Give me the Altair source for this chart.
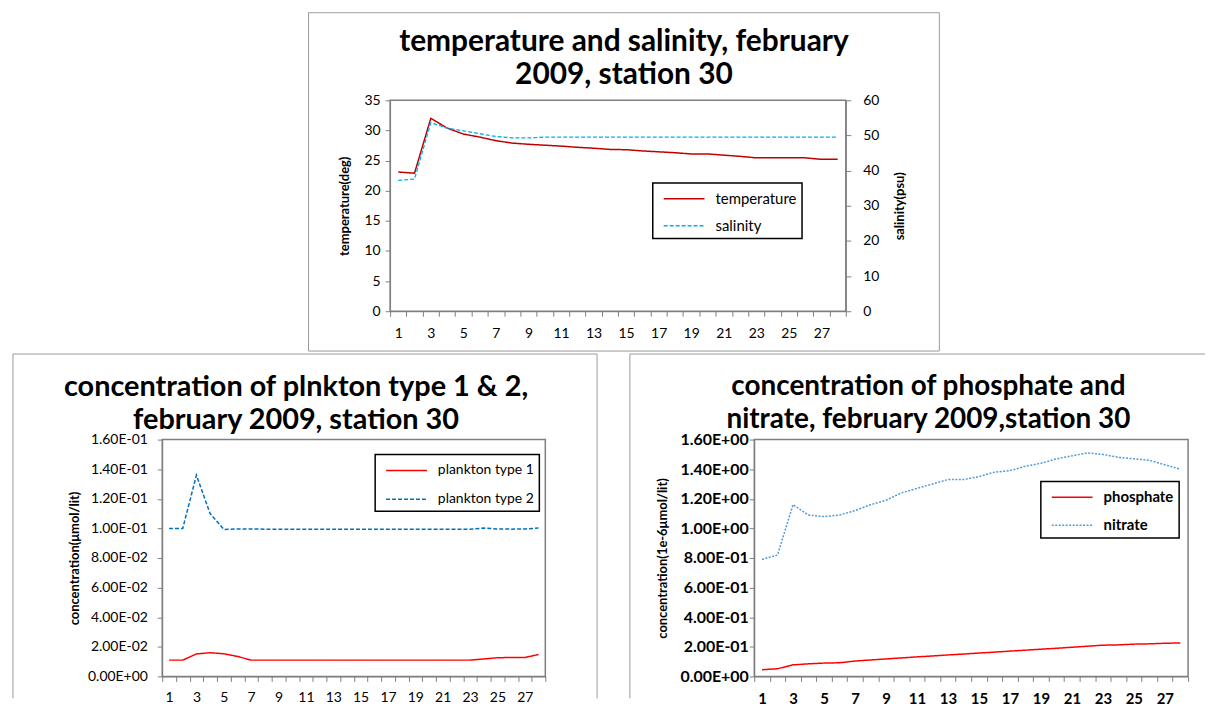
import altair as alt
import pandas as pd

# ---------------- data ----------------
stations = list(range(1, 29))

temperature = [23.1, 22.9, 32.0, 30.4, 29.4, 28.9, 28.3, 27.9, 27.7, 27.55,
               27.4, 27.2, 27.05, 26.85, 26.8, 26.6, 26.45, 26.3, 26.1, 26.1,
               25.9, 25.7, 25.45, 25.45, 25.45, 25.45, 25.2, 25.2]
salinity = [37.2, 37.6, 53.6, 52.1, 51.3, 50.5, 49.7, 49.3, 49.3, 49.5,
            49.5, 49.5, 49.5, 49.5, 49.5, 49.5, 49.5, 49.5, 49.5, 49.5,
            49.5, 49.5, 49.5, 49.5, 49.5, 49.5, 49.5, 49.5]

plankton_type1 = [0.0110, 0.0110, 0.0152, 0.0160, 0.0153, 0.0135, 0.0110, 0.0110,
                  0.0110, 0.0110, 0.0110, 0.0110, 0.0110, 0.0110, 0.0110, 0.0110,
                  0.0110, 0.0110, 0.0110, 0.0110, 0.0110, 0.0110, 0.0110, 0.0118,
                  0.0126, 0.0128, 0.0128, 0.0148]
plankton_type2 = [0.1000, 0.1000, 0.1360, 0.1100, 0.0993, 0.0996, 0.0996, 0.0995,
                  0.0995, 0.0995, 0.0995, 0.0995, 0.0995, 0.0995, 0.0995, 0.0995,
                  0.0995, 0.0995, 0.0995, 0.0995, 0.0995, 0.0995, 0.0995, 0.1002,
                  0.0996, 0.0995, 0.0996, 0.1002]

phosphate = [0.045, 0.052, 0.078, 0.085, 0.090, 0.092, 0.104, 0.111, 0.118, 0.125,
             0.132, 0.138, 0.145, 0.151, 0.158, 0.164, 0.171, 0.177, 0.184, 0.190,
             0.197, 0.204, 0.211, 0.213, 0.218, 0.220, 0.224, 0.226]
nitrate = [0.79, 0.82, 1.16, 1.09, 1.08, 1.09, 1.12, 1.16, 1.19, 1.24,
           1.27, 1.30, 1.33, 1.33, 1.35, 1.38, 1.39, 1.42, 1.44, 1.47,
           1.49, 1.51, 1.50, 1.48, 1.47, 1.46, 1.43, 1.40]

temp_ticks = [0, 5, 10, 15, 20, 25, 30, 35]
sal_ticks = [0, 10, 20, 30, 40, 50, 60]
plankton_ticks = [0, 0.02, 0.04, 0.06, 0.08, 0.10, 0.12, 0.14, 0.16]
nutrient_ticks = [0, 0.2, 0.4, 0.6, 0.8, 1.0, 1.2, 1.4, 1.6]

top_series = ["temperature", "salinity"]
plankton_series = ["plankton type 1", "plankton type 2"]
nutrient_series = ["phosphate", "nitrate"]

top_title = ["temperature and salinity, february", "2009, station 30"]
bl_title = ["concentration of plnkton type 1 & 2,", "february 2009, station 30"]
br_title = ["concentration of phosphate and", "nitrate, february 2009,station 30"]

# ---------------- style ----------------
FONT = "Lato"
AXIS_GRAY = "#7F7F7F"
PANEL_GRAY = "#9A9A9A"
ODD = "datum.value % 2 == 1 ? datum.label : ''"
SCI = ("datum.value == 0 ? '0.00E+00' : "
       "format(datum.value / pow(10, floor(log(datum.value) / LN10 + 1e-9)), '.2f') + 'E' + "
       "(floor(log(datum.value) / LN10 + 1e-9) < 0 ? '-' : '+') + "
       "format(abs(floor(log(datum.value) / LN10 + 1e-9)), '02d')")
LEGEND_LINE = "M-0.5,0H3.6"   # a 41px legend line drawn inside a 20px symbol slot


def long_table(names, series):
    rows = []
    for name, vals in zip(names, series):
        for st, v in zip(stations, vals):
            rows.append({"station": st, "series": name, "value": v})
    return pd.DataFrame(rows)


def x_enc(size, weight, pad):
    return alt.X("station:O", sort=stations, bandPosition=0.5,
                 scale=alt.Scale(type="band", paddingInner=0, paddingOuter=0),
                 axis=alt.Axis(title=None, labelAngle=0, labelExpr=ODD, labelOverlap=False,
                               tickBand="extent", tickSize=5, labelPadding=pad,
                               labelFont=FONT, labelFontSize=size, labelFontWeight=weight,
                               labelColor="black", domainColor=AXIS_GRAY, tickColor=AXIS_GRAY,
                               grid=False))


def y_axis(values, title, orient, tx, ty, size, weight, pad, expr=None):
    kw = dict(values=values, orient=orient, title=title, titleFont=FONT, titleFontSize=13,
              titleFontWeight="bold", titleColor="black", titleAngle=270, titleX=tx, titleY=ty,
              titleAlign="center", titleBaseline="middle", labelFont=FONT, labelFontSize=size,
              labelFontWeight=weight, labelColor="black", labelPadding=pad, tickSize=5,
              domainColor=AXIS_GRAY, tickColor=AXIS_GRAY, grid=False)
    if expr:
        kw["labelExpr"] = expr
    return alt.Axis(**kw)


def legend(x, y, size, weight, row_pad):
    return alt.Legend(title=None, orient="none", legendX=x, legendY=y, direction="vertical",
                      symbolType=LEGEND_LINE, symbolSize=400, symbolStrokeWidth=1.5,
                      labelFont=FONT, labelFontSize=size, labelFontWeight=weight,
                      labelColor="black", labelOffset=36, padding=5, rowPadding=row_pad,
                      strokeColor="black", fillColor="white")


frame_data = pd.DataFrame({"k": [0]})


def edge(x1, x2, y1, y2):
    return alt.Chart(frame_data).mark_rule(color=PANEL_GRAY, strokeWidth=1).encode(
        x=alt.value(x1), x2=alt.value(x2), y=alt.value(y1), y2=alt.value(y2))


def title(text, size, dx, offset, weight="bold"):
    return alt.TitleParams(text=text, font=FONT, fontSize=size, fontWeight=weight, color="black",
                           anchor="middle", frame="group", dx=dx, offset=offset,
                           lineHeight=33, baseline="bottom")


# ---------------- top: temperature & salinity ----------------
top_df = long_table(top_series, [temperature, salinity])
top_leg = legend(264, 83, 15, "normal", 8)
top_color = alt.Color("series:N", scale=alt.Scale(domain=top_series, range=["#C00000", "#00B0F0"]),
                      legend=top_leg)
top_dash = alt.StrokeDash("series:N", scale=alt.Scale(domain=top_series, range=[[1, 0], [4, 2]]),
                          legend=top_leg)

temp_line = alt.Chart(top_df).transform_filter(alt.datum.series == "temperature").mark_line(
    strokeWidth=1.5).encode(
    x=x_enc(14, "normal", 10),
    y=alt.Y("value:Q", scale=alt.Scale(domain=[0, 35], nice=False),
            axis=y_axis(temp_ticks, "temperature(deg)", "left", -46, 106, 14, "normal", 5)),
    color=top_color, strokeDash=top_dash)

sal_line = alt.Chart(top_df).transform_filter(alt.datum.series == "salinity").mark_line(
    strokeWidth=1.3).encode(
    x=x_enc(14, "normal", 10),
    y=alt.Y("value:Q", scale=alt.Scale(domain=[0, 60], nice=False),
            axis=y_axis(sal_ticks, "salinity(psu)", "right", 54, 106, 14, "normal", 12)),
    color=top_color, strokeDash=top_dash)

top = alt.layer(
    temp_line, sal_line,
    edge(-82, 552, -88, -88), edge(-82, 552, 252, 252),
    edge(-82, -82, -88, 252), edge(552, 552, -88, 252),
).resolve_scale(y="independent").properties(
    width=458, height=212, title=title(top_title, 30, 6, -108))

spacer = alt.Chart(frame_data).mark_point(opacity=0).encode(
    x=alt.value(0), y=alt.value(0)).properties(
    width=145, height=1, view=alt.ViewBackground(strokeOpacity=0))

# ---------------- bottom left: plankton ----------------
bl_df = long_table(plankton_series, [plankton_type1, plankton_type2])
bl_leg = legend(214, 15, 14, "normal", 11)
bl_lines = alt.Chart(bl_df).mark_line(strokeWidth=1.5).encode(
    x=x_enc(14, "normal", 9),
    y=alt.Y("value:Q", scale=alt.Scale(domain=[0, 0.16], nice=False),
            axis=y_axis(plankton_ticks, "concentration(\u03bcmol/lit)", "left", -88, 119,
                        14, "normal", 10, SCI)),
    color=alt.Color("series:N", scale=alt.Scale(domain=plankton_series,
                                                range=["#FF0000", "#0070C0"]), legend=bl_leg),
    strokeDash=alt.StrokeDash("series:N", scale=alt.Scale(domain=plankton_series,
                                                          range=[[1, 0], [4, 2]]), legend=bl_leg))

bl = alt.layer(
    bl_lines,
    edge(-150, 437, -86, -86), edge(-150, -150, -86, 260), edge(437, 437, -86, 260),
).properties(width=385, height=238, title=title(bl_title, 29, -58, -111))

# ---------------- bottom right: nutrients ----------------
br_df = long_table(nutrient_series, [phosphate, nitrate])
br_leg = legend(288, 42, 15, "bold", 9)
br_lines = alt.Chart(br_df).mark_line(strokeWidth=1.5).encode(
    x=x_enc(15, "bold", 10),
    y=alt.Y("value:Q", scale=alt.Scale(domain=[0, 1.6], nice=False),
            axis=y_axis(nutrient_ticks, "concentration(1e-6\u03bcmol/lit)", "left", -92, 119,
                        16, "bold", 1, SCI)),
    color=alt.Color("series:N", scale=alt.Scale(domain=nutrient_series,
                                                range=["#FF0000", "#4F9BDB"]), legend=br_leg),
    strokeDash=alt.StrokeDash("series:N", scale=alt.Scale(domain=nutrient_series,
                                                          range=[[1, 0], [2, 1.5]]), legend=br_leg))

br = alt.layer(
    br_lines,
    edge(-125, 453, -86, -86), edge(-125, -125, -86, 260),
).properties(width=436, height=238, title=title(br_title, 28, -43, -109))

indep = dict(color="independent", strokeDash="independent")
top_row = alt.hconcat(spacer, top, spacing=0).resolve_scale(**indep).resolve_legend(**indep)
bottom_row = alt.hconcat(bl, br, spacing=29).resolve_scale(**indep).resolve_legend(**indep)

chart = alt.vconcat(top_row, bottom_row, spacing=-1).resolve_scale(**indep).resolve_legend(
    **indep).properties(
    padding={"left": 3, "top": 1, "right": 0, "bottom": 0}, background="white"
).configure_view(stroke=AXIS_GRAY, strokeWidth=1.5).configure_legend(strokeWidth=1.5)

chart.save("out.html", embed_options={"renderer": "svg", "actions": False})
